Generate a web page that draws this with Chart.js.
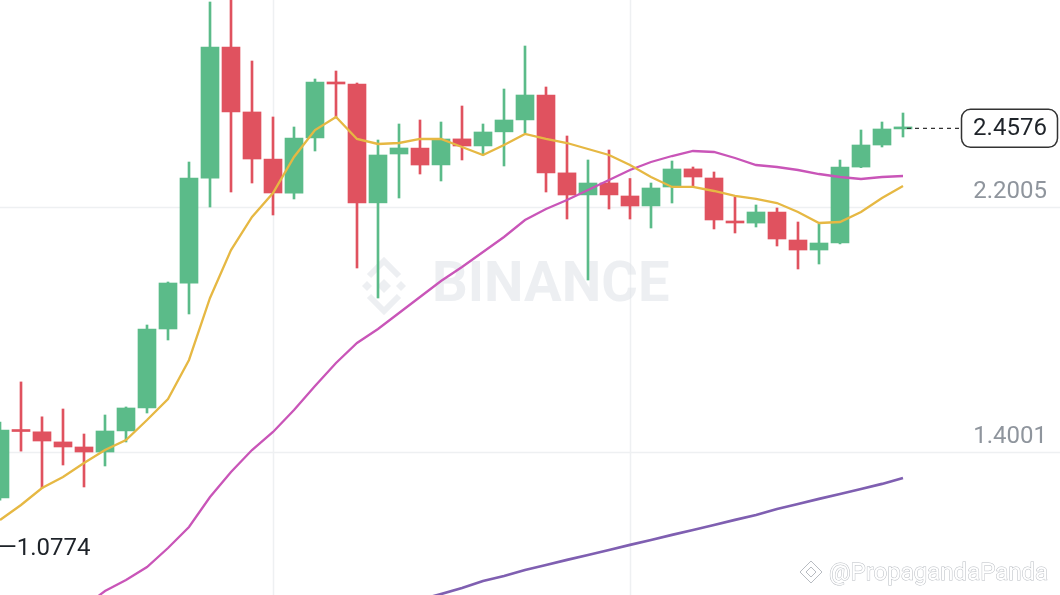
<!DOCTYPE html>
<html>
<head>
<meta charset="utf-8">
<script src="https://cdn.jsdelivr.net/npm/chart.js@4"></script>
<style>
  html, body { margin: 0; padding: 0; background: #fff; }
  #wrap { width: 1060px; height: 595px; position: relative; overflow: hidden; }
</style>
</head>
<body>
<div id="wrap"><canvas id="chart" width="1060" height="595"></canvas></div>
<script>
// candles, one per slot (left to right)
const opens  = [1.250, 1.472, 1.466, 1.433, 1.4165, 1.400, 1.469, 1.544, 1.802, 1.952,
                2.295, 2.723, 2.511, 2.357, 2.246, 2.426, 2.609, 2.602, 2.214, 2.3737,
                2.393, 2.338, 2.423, 2.400, 2.446, 2.485, 2.566, 2.312, 2.240, 2.279,
                2.2365, 2.204, 2.2659, 2.325, 2.2953, 2.1548, 2.148, 2.184, 2.0927, 2.060,
                2.083, 2.331, 2.403, 2.4556];
const highs  = [1.498, 1.629, 1.515, 1.5406, 1.4589, 1.521, 1.5472, 1.815, 1.9555, 2.3475,
                2.8703, 2.90, 2.6775, 2.4946, 2.4619, 2.6187, 2.6448, 2.6056, 2.4194, 2.4717,
                2.4848, 2.4782, 2.5305, 2.4717, 2.586, 2.7265, 2.5926, 2.4325, 2.3541, 2.3867,
                2.2936, 2.2789, 2.3508, 2.3312, 2.3149, 2.2332, 2.2071, 2.1973, 2.1515, 2.145,
                2.354, 2.4521, 2.4782, 2.5076];
const lows   = [1.243, 1.403, 1.282, 1.3576, 1.2858, 1.3544, 1.4328, 1.5275, 1.766, 1.851,
                2.2005, 2.2495, 2.2789, 2.1744, 2.2267, 2.3835, 2.4913, 2.0012, 1.9032, 2.2299,
                2.3083, 2.2855, 2.3541, 2.3704, 2.3345, 2.4423, 2.2495, 2.1613, 1.962, 2.194,
                2.1613, 2.1319, 2.2136, 2.266, 2.1287, 2.1156, 2.1352, 2.0731, 1.998, 2.0143,
                2.080, 2.329, 2.3966, 2.4292];
const closes = [1.472, 1.467, 1.436, 1.4165, 1.4001, 1.4687, 1.5439, 1.802, 1.9522, 2.2953,
                2.7233, 2.5109, 2.3573, 2.2463, 2.426, 2.6089, 2.6024, 2.2136, 2.3704, 2.3933,
                2.3377, 2.4227, 2.3998, 2.4456, 2.4848, 2.5664, 2.3116, 2.2397, 2.2789, 2.240,
                2.2038, 2.2626, 2.3247, 2.2985, 2.1581, 2.1483, 2.1842, 2.096, 2.060, 2.0829,
                2.3312, 2.4031, 2.4554, 2.4576];

// moving averages (null where the line is not on screen)
const ma7  = [1.178, 1.227, 1.2825, 1.3184, 1.3642, 1.4066, 1.4393, 1.5047, 1.5733, 1.7007,
              1.9032, 2.060, 2.1679, 2.2463, 2.3639, 2.4521, 2.4946, 2.4227, 2.4064, 2.4096,
              2.4227, 2.4227, 2.3966, 2.3704, 2.4031, 2.439, 2.4227, 2.4096, 2.390, 2.3704,
              2.3377, 2.2985, 2.266, 2.266, 2.2528, 2.2365, 2.2267, 2.2136, 2.1842, 2.1483,
              2.1515, 2.1842, 2.2299, 2.2691];
const ma25 = [null, null, null, null, 0.8937, 0.946, 0.9819, 1.0244, 1.0865, 1.1551,
              1.2531, 1.3348, 1.4066, 1.4655, 1.5373, 1.6157, 1.6909, 1.7562, 1.802, 1.8542,
              1.9065, 1.9588, 2.0045, 2.0535, 2.1025, 2.1581, 2.194, 2.2234, 2.2561, 2.2887,
              2.3214, 2.3475, 2.3671, 2.3835, 2.3802, 2.3606, 2.3377, 2.3312, 2.3214, 2.3083,
              2.2985, 2.292, 2.2985, 2.3018];
const ma99 = [null, null, null, null, null, null, null, null, null, null,
              null, null, null, null, null, null, null, null, null, null,
              0.9166, 0.9362, 0.9558, 0.9787, 0.995, 1.0146, 1.0309, 1.0473, 1.0636, 1.0799,
              1.0963, 1.1126, 1.129, 1.1453, 1.1616, 1.178, 1.1943, 1.2139, 1.2302, 1.2466,
              1.2629, 1.2792, 1.2956, 1.3152];

// price labels on the right
const gridPrices = [2.2005, 1.4001];
const lastPrice = 2.4576;
const lowMark = '1.0774';
const vGridSlots = [13, 30];

const GREEN = '#5bbb89';
const RED = '#e0525f';

const pt = (arr) => arr.map((v, i) => ({ x: i, y: v }));
const up = opens.map((o, i) => closes[i] >= o);
const colors = up.map(u => u ? GREEN : RED);

// grid + watermark behind the candles
const backdrop = {
  id: 'backdrop',
  beforeDatasetsDraw(chart) {
    const { ctx, chartArea: a, scales: { x, y } } = chart;
    ctx.save();
    ctx.strokeStyle = '#eef0f2';
    ctx.lineWidth = 1.5;
    gridPrices.forEach(p => {
      const py = Math.round(y.getPixelForValue(p)) + 0.5;
      ctx.beginPath(); ctx.moveTo(a.left, py); ctx.lineTo(a.right, py); ctx.stroke();
    });
    vGridSlots.forEach(s => {
      const px = Math.round(x.getPixelForValue(s)) + 0.5;
      ctx.beginPath(); ctx.moveTo(px, a.top); ctx.lineTo(px, a.bottom); ctx.stroke();
    });

    // BINANCE watermark
    ctx.fillStyle = 'rgba(225,229,233,0.6)';
    ctx.font = 'bold 56px Roboto, "Noto Sans", sans-serif';
    ctx.textBaseline = 'middle';
    ctx.fillText('BINANCE', 432, 287);
    // logo
    const cx = 384, cy = 286;
    const dia = (x0, y0, r) => {
      ctx.beginPath();
      ctx.moveTo(x0, y0 - r); ctx.lineTo(x0 + r, y0); ctx.lineTo(x0, y0 + r); ctx.lineTo(x0 - r, y0);
      ctx.closePath(); ctx.fill();
    };
    dia(cx, cy, 7);
    dia(cx - 17, cy, 5);
    dia(cx + 17, cy, 5);
    ctx.lineWidth = 6;
    ctx.strokeStyle = 'rgba(225,229,233,0.6)';
    ctx.beginPath(); ctx.moveTo(cx - 15, cy - 10); ctx.lineTo(cx, cy - 25); ctx.lineTo(cx + 15, cy - 10); ctx.stroke();
    ctx.beginPath(); ctx.moveTo(cx - 15, cy + 10); ctx.lineTo(cx, cy + 25); ctx.lineTo(cx + 15, cy + 10); ctx.stroke();
    ctx.restore();
  }
};

// price labels on top
const labels = {
  id: 'labels',
  afterDraw(chart) {
    const { ctx, scales: { x, y } } = chart;
    ctx.save();
    ctx.font = '24px Roboto, "Noto Sans", sans-serif';
    ctx.textBaseline = 'middle';
    ctx.textAlign = 'right';

    ctx.fillStyle = '#8f959d';
    gridPrices.forEach(p => {
      ctx.fillText(p.toFixed(4), 1047, y.getPixelForValue(p) - 15);
    });

    // last price tag
    const ly = y.getPixelForValue(lastPrice);
    const lx = x.getPixelForValue(closes.length - 1);
    ctx.strokeStyle = '#333';
    ctx.lineWidth = 1.2;
    ctx.setLineDash([4, 4]);
    ctx.beginPath(); ctx.moveTo(lx + 4, ly); ctx.lineTo(961, ly); ctx.stroke();
    ctx.setLineDash([]);
    ctx.fillStyle = '#fff';
    ctx.lineWidth = 1.5;
    ctx.beginPath();
    ctx.roundRect(961.5, ly - 19, 96, 38, 9);
    ctx.fill(); ctx.stroke();
    ctx.fillStyle = '#1e2329';
    ctx.textAlign = 'center';
    ctx.fillText(lastPrice.toFixed(4), 1010, ly + 1);

    // low marker
    ctx.textAlign = 'left';
    ctx.fillText('\u2014' + lowMark, -2, 549);

    // account watermark
    ctx.font = '24px Roboto, "Noto Sans", sans-serif';
    ctx.fillStyle = '#fff';
    ctx.strokeStyle = '#b8bcc2';
    ctx.lineWidth = 1;
    ctx.strokeText('@PropagandaPanda', 829, 574);
    ctx.fillText('@PropagandaPanda', 829, 574);
    ctx.beginPath();
    ctx.moveTo(800, 572); ctx.lineTo(811, 561); ctx.lineTo(822, 572); ctx.lineTo(811, 583); ctx.closePath();
    ctx.stroke();
    ctx.beginPath();
    ctx.moveTo(806, 572); ctx.lineTo(811, 567); ctx.lineTo(816, 572); ctx.lineTo(811, 577); ctx.closePath();
    ctx.stroke();
    ctx.restore();
  }
};

new Chart(document.getElementById('chart'), {
  type: 'bar',
  data: {
    datasets: [
      {
        type: 'line', label: 'MA(7)', data: pt(ma7), order: 0,
        borderColor: '#e6b843', borderWidth: 2.3, pointRadius: 0, tension: 0
      },
      {
        type: 'line', label: 'MA(25)', data: pt(ma25), order: 0,
        borderColor: '#c955b8', borderWidth: 2.3, pointRadius: 0, tension: 0
      },
      {
        type: 'line', label: 'MA(99)', data: pt(ma99), order: 0,
        borderColor: '#7f5fb1', borderWidth: 2.8, pointRadius: 0, tension: 0
      },
      {
        label: 'body', data: opens.map((o, i) => ({ x: i, y: [o, closes[i]] })), order: 1,
        backgroundColor: colors, borderWidth: 0, barThickness: 18, minBarLength: 2, grouped: false
      },
      {
        label: 'wick', data: lows.map((l, i) => ({ x: i, y: [l, highs[i]] })), order: 2,
        backgroundColor: colors, borderWidth: 0, barThickness: 2, grouped: false
      }
    ]
  },
  options: {
    responsive: false,
    animation: false,
    devicePixelRatio: 1,
    layout: { padding: 0 },
    plugins: { legend: { display: false }, tooltip: { enabled: false } },
    scales: {
      x: { type: 'linear', display: false, offset: false, min: 0, max: 1060 / 21 },
      y: { type: 'linear', display: false, min: 0.9329, max: 2.8768 }
    }
  },
  plugins: [backdrop, labels]
});
</script>
</body>
</html>
